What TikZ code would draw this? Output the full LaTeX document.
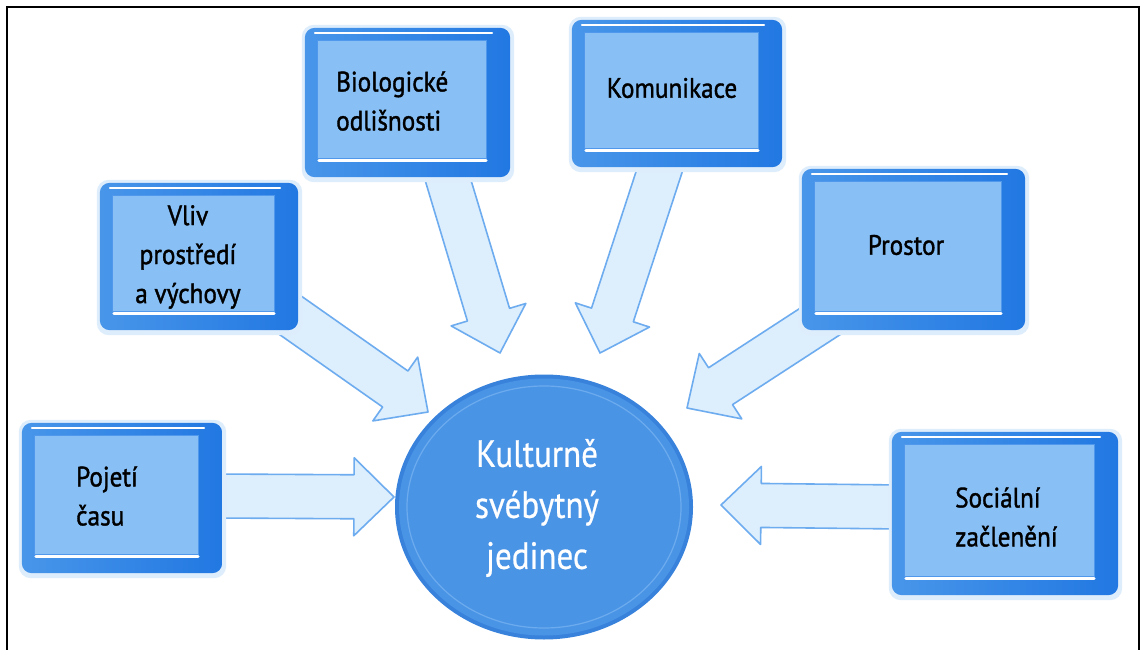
\documentclass[tikz,border=0pt]{standalone}
\usepackage{fontspec}
\setmainfont{PT Sans}
\newfontfamily\boxfont{PT Sans}[FakeStretch=0.9, FakeBold=1.3]
\newfontfamily\hubfont{PT Sans}[FakeStretch=0.87, FakeBold=0.6]
\usetikzlibrary{calc,shapes.geometric}

\definecolor{panelA}{RGB}{72,150,234}
\definecolor{panelB}{RGB}{34,120,226}
\definecolor{panelinner}{RGB}{136,192,246}
\definecolor{panelhalo}{RGB}{222,237,252}
\definecolor{hubfill}{RGB}{74,148,230}
\definecolor{hubdark}{RGB}{56,130,220}
\definecolor{hubring}{RGB}{108,172,238}
\definecolor{arrowfill}{RGB}{221,238,252}
\definecolor{arrowedge}{RGB}{110,172,240}

\tikzset{
  panelbox/.style={rectangle, inner sep=0pt, draw=none},
  paneltext/.style={font=\boxfont\fontsize{28}{39}\selectfont, text=black, inner sep=0pt},
  hubtext/.style={font=\hubfont\fontsize{38}{51}\selectfont, text=white, align=center, inner sep=0pt},
  arrowbody/.style={fill=arrowfill, draw=arrowedge, line width=1.6pt, line join=round},
  frameline/.style={line width=2.6pt, draw=black},
}

% block arrow from #1 (tail) to #2 (tip)
\newcommand\blockarrow[2]{%
  \draw[arrowbody] let \p1=($(#2)-(#1)$), \n1={atan2(\y1,\x1)}, \n2={veclen(\x1,\y1)} in
    {[shift={(#1)}, rotate=\n1]
      (0pt,-22pt) -- ({\n2*1pt-40pt},-22pt) -- ({\n2*1pt-40pt},-39pt) -- ({\n2*1pt},0pt)
      -- ({\n2*1pt-40pt},39pt) -- ({\n2*1pt-40pt},22pt) -- (0pt,22pt) -- cycle};
}

% bevelled panel: name, centre x, centre y, width, height
\newcommand\panel[5]{%
  \node[panelbox, minimum width=#4pt, minimum height=#5pt] (#1) at (#2,#3) {};
  \fill[panelhalo, rounded corners=12pt] ([shift={(-3pt,3pt)}]#1.north west) rectangle ([shift={(4pt,-5pt)}]#1.south east);
  \shade[left color=panelA, right color=panelB, rounded corners=10pt] (#1.north west) rectangle (#1.south east);
  \fill[panelinner] ([shift={(13pt,-13pt)}]#1.north west) rectangle ([shift={(-24pt,19pt)}]#1.south east);
  \draw[panelB!55!panelinner, line width=1.2pt] ([shift={(13pt,-13pt)}]#1.north west) rectangle ([shift={(-24pt,19pt)}]#1.south east);
  \draw[white, line width=2pt, line cap=round] ([shift={(10pt,-5pt)}]#1.north west) -- ([shift={(-18pt,-5pt)}]#1.north east);
  \draw[white, line width=3pt, line cap=round] ([shift={(14pt,17pt)}]#1.south west) -- ([shift={(-24pt,17pt)}]#1.south east);
}

\begin{document}
\begin{tikzpicture}[x=1pt, y=-1pt]
\useasboundingbox (0,0) rectangle (1141,650);
\fill[white] (0,0) rectangle (1141,650);

% arrow tails and tips
\coordinate (a1s) at (215,496);  \coordinate (a1t) at (394,497);
\coordinate (a2s) at (280,308);  \coordinate (a2t) at (428,412);
\coordinate (a3s) at (445,170);  \coordinate (a3t) at (500,353);
\coordinate (a4s) at (663,160);  \coordinate (a4t) at (600,353);
\coordinate (a5s) at (830,315);  \coordinate (a5t) at (687,408);
\coordinate (a6s) at (900,507);  \coordinate (a6t) at (721,505);

\blockarrow{a1s}{a1t}
\blockarrow{a2s}{a2t}
\blockarrow{a3s}{a3t}
\blockarrow{a4s}{a4t}
\blockarrow{a5s}{a5t}
\blockarrow{a6s}{a6t}

% panels
\panel{cas}{122}{498}{200}{150}
\panel{vliv}{199}{256.5}{198}{147}
\panel{bio}{407.5}{102.5}{205}{149}
\panel{kom}{677}{93.5}{210}{147}
\panel{prostor}{913.5}{249.5}{223}{161}
\panel{soc}{1005}{513.5}{226}{163}

\node[paneltext, anchor=west, align=left] (tcas) at (76,496) {Pojetí\\času};
\node[paneltext, align=center] (tvliv) at (188,257) {Vliv\\prostředí\\a výchovy};
\node[paneltext, anchor=west, align=left] (tbio) at (336,101) {Biologické\\odlišnosti};
\node[paneltext] (tkom) at (672,88) {Komunikace};
\node[paneltext] (tprostor) at (906,245) {Prostor};
\node[paneltext, anchor=west, align=left] (tsoc) at (955,517) {Sociální\\začlenění};

% central disc
\node[ellipse, minimum width=298pt, minimum height=265pt, inner sep=0pt] (hub) at (544,507) {};
\fill[hubdark] (hub.center) ellipse [x radius=149pt, y radius=132.5pt];
\fill[hubfill] (hub.center) ellipse [x radius=145pt, y radius=128.5pt];
\draw[hubring, line width=1.2pt] (hub.center) ellipse [x radius=137pt, y radius=121pt];
\node[hubtext] (thub) at (537,508) {Kulturně\\svébytný\\jedinec};

% outer frame, open at the bottom
\draw[frameline] (7,652) -- (7,7) -- (1139,7) -- (1139,652);
\end{tikzpicture}
\end{document}
